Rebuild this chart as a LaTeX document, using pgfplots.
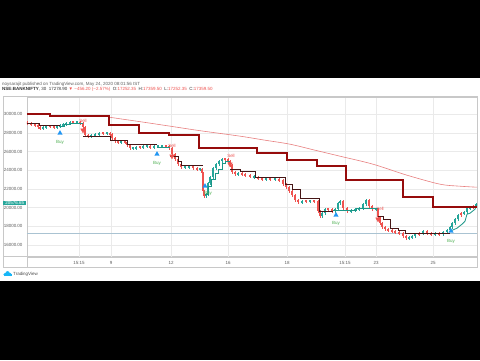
\documentclass[border=0pt]{standalone}
\usepackage{pgfplots}
\pgfplotsset{compat=1.18}
\usepackage{pgfplotstable}
\usepackage{fontspec}
\setmainfont{Liberation Sans}
\definecolor{thickred}{RGB}{150,12,12}
\definecolor{ema}{RGB}{232,128,128}
\definecolor{trdark}{RGB}{70,22,22}
\definecolor{trteal}{RGB}{28,150,135}
\definecolor{cgreen}{RGB}{38,166,154}
\definecolor{cred}{RGB}{239,83,80}
\definecolor{buyblue}{RGB}{33,150,243}
\definecolor{buytxt}{RGB}{76,175,80}
\definecolor{gridc}{RGB}{234,234,234}
\definecolor{lbl}{RGB}{95,95,95}
\definecolor{frame}{RGB}{200,200,200}
\definecolor{pline}{RGB}{170,195,210}
\newcommand\tv{\fontsize{4.5}{5.4}\selectfont}

\pgfplotstableread{
x o c k
27 29100 29037 0
31 29037 28930 0
35 28930 28823 0
38 28823 28609 0
40 28609 28502 0
43 28502 28609 1
46 28609 28716 1
50 28716 28716 0
54 28716 28609 0
57 28609 28716 1
60 28716 28823 1
63 28823 28930 1
66 28930 29037 1
70 29037 29144 1
73 29144 29144 0
77 29144 29144 1
80 29144 29037 0
83 29037 28609 0
85 28609 27753 0
88 27753 27646 0
91 27646 27753 1
95 27753 27860 1
99 27860 27967 1
103 27967 27967 0
107 27967 27967 1
110 27967 27860 0
112 27860 27432 0
115 27432 27111 0
118 27111 27004 0
121 27004 27004 1
125 27004 27004 0
127 27004 26683 0
130 26683 26362 0
133 26362 26362 1
136 26362 26469 1
140 26469 26469 0
143 26469 26576 1
147 26576 26576 1
150 26576 26469 0
154 26469 26576 1
158 26576 26576 1
162 26576 26576 1
166 26576 26576 0
169 26576 26362 0
172 26362 25720 0
175 25720 25185 0
178 25185 24650 0
181 24650 24329 0
185 24329 24329 1
189 24329 24436 1
193 24436 24222 0
197 24222 24115 0
200 24115 24115 1
202 24115 23687 0
203 23687 21761 0
204 21761 21226 0
206 21226 21440 1
208 21440 22617 1
210 22617 23259 1
213 23259 24222 1
216 24222 24650 1
219 24650 24971 1
222 24971 25185 1
225 25185 25185 0
228 25185 24971 0
230 24971 24543 0
232 24543 23794 0
235 23794 23580 0
238 23580 23687 1
242 23687 23580 0
245 23580 23473 0
250 23473 23366 0
254 23366 23259 1
258 23259 23152 0
262 23152 23045 0
266 23045 23045 1
270 23045 23045 0
275 23045 23045 1
279 23045 22938 0
283 22938 22510 0
286 22510 22189 0
289 22189 21761 0
292 21761 21333 0
295 21333 20798 0
298 20798 20584 0
302 20584 20691 1
306 20691 20691 0
310 20691 20691 1
314 20691 20691 0
318 20691 19621 0
320 19621 19086 0
322 19086 19407 1
325 19407 19835 1
328 19835 19835 0
332 19835 19621 0
335 19621 19835 1
338 19835 20477 1
340 20477 20691 1
343 20691 19942 0
347 19942 19621 0
351 19621 19728 1
355 19728 19835 1
359 19835 19942 1
363 19942 20370 1
366 20370 20798 1
369 20798 20156 0
372 20156 19835 0
376 19835 19835 1
378 19835 18979 0
380 18979 18337 0
382 18337 17909 0
385 17909 17695 0
388 17695 17588 0
392 17588 17481 0
395 17481 17374 0
399 17374 17267 0
403 17267 16946 0
406 16946 16732 0
409 16732 16839 1
412 16839 16946 1
415 16946 17160 1
419 17160 17267 0
423 17267 17481 1
427 17481 17267 0
431 17267 17160 0
435 17160 17267 1
439 17267 17160 0
443 17160 17374 1
447 17374 17588 1
450 17588 17909 1
452 17909 18337 1
455 18337 18765 1
458 18765 19193 1
461 19193 19407 0
464 19407 19514 1
467 19514 19942 1
470 19942 20049 1
473 20049 20156 0
476 20156 20370 1
}\price

\pgfplotsset{
  candle/.style 2 args={draw=none, mark=none, restrict y to domain=0:100000,
    error bars/.cd, y dir=both, y explicit, error mark=none,
    error bar style={draw=#1, line width=#2}},
}

\begin{document}
\begin{tikzpicture}[x=1bp,y=1bp]
\fill[black] (0,0) rectangle (480,360);
\fill[white] (0,79) rectangle (480,282);
% header
\node[anchor=west, inner sep=0, font=\tv, text=lbl] at (2,276) {noysarajit published on TradingView.com, May 24, 2020 08:01:56 IST};
\node[anchor=west, inner sep=0, font=\tv, text=black!80] at (2,270.5) {\textbf{NSE:BANKNIFTY}, 30\ \ 17278.90 \textcolor{cred}{▼ −456.20 (−2.57\%)}\ \ O:\textcolor{cred}{17252.35}\ \ H:\textcolor{cred}{17359.50}\ \ L:\textcolor{cred}{17252.35}\ \ C:\textcolor{cred}{17359.50}};
% frame
\draw[frame, line width=0.5pt] (3,93) rectangle (477,264);
\draw[frame, line width=0.5pt] (3,104) -- (477,104);
\draw[frame, line width=0.5pt] (27,93) -- (27,264);
\begin{axis}[at={(27,110)}, anchor=south west, scale only axis,
  width=450bp, height=160bp,
  xmin=27, xmax=477, ymin=14699, ymax=31819,
  scaled y ticks=false, scaled x ticks=false,
  axis line style={draw=frame, line width=0.5pt},
  xtick={79,111,171,228,287,345,376,433},
  xticklabels={15:15,9,12,16,18,15:15,23,25},
  ytick={16000,18000,20000,22000,24000,26000,28000,30000},
  yticklabels={16000.00,18000.00,20000.00,22000.00,24000.00,26000.00,28000.00,30000.00},
  grid=major, major grid style={draw=gridc, line width=0.4pt},
  tick style={draw=none},
  ticklabel style={font=\tv, text=lbl},
  xticklabel style={anchor=center, yshift=-6bp},
  yticklabel style={anchor=east, xshift=-1bp},
]
\addplot[pline, line width=0.5pt] coordinates {(27,17267) (477,17267)};
% candles: wicks then bodies
\addplot[candle={cgreen}{0.4pt}]
  table[x=x, y expr={\thisrow{k}==1 ? (\thisrow{o}+\thisrow{c})/2 : -100000},
        y error expr={abs(\thisrow{c}-\thisrow{o})/2+160}] {\price};
\addplot[candle={cred}{0.4pt}]
  table[x=x, y expr={\thisrow{k}==0 ? (\thisrow{o}+\thisrow{c})/2 : -100000},
        y error expr={abs(\thisrow{c}-\thisrow{o})/2+160}] {\price};
\addplot[candle={cgreen}{1.3pt}]
  table[x=x, y expr={\thisrow{k}==1 ? (\thisrow{o}+\thisrow{c})/2 : -100000},
        y error expr={max(abs(\thisrow{c}-\thisrow{o})/2,80)}] {\price};
\addplot[candle={cred}{1.3pt}]
  table[x=x, y expr={\thisrow{k}==0 ? (\thisrow{o}+\thisrow{c})/2 : -100000},
        y error expr={max(abs(\thisrow{c}-\thisrow{o})/2,80)}] {\price};
% trailing stop dark
\addplot[const plot, trdark, line width=0.8pt] coordinates {(27,29040) (39,28750) (60,28750)};
\addplot[const plot, trdark, line width=0.8pt] coordinates {(83,27650) (110,27220) (127,26790) (157,26790)};
\addplot[const plot, trdark, line width=0.8pt] coordinates {(170,25500) (178,24970) (181,24540) (203,24540)};
\addplot[const plot, trdark, line width=0.8pt] coordinates {(230,24115) (240,23900) (255,23260) (285,22510) (292,21975) (300,21010) (319,19620) (333,19620)};
\addplot[const plot, trdark, line width=0.8pt] coordinates {(378,19090) (383,18765) (390,17800) (398,17590) (405,17267) (450,17267)};
% trailing stop teal
\addplot[const plot, trteal, line width=0.8pt] coordinates {(60,28716) (64,28930) (70,29037) (83,29037)};
\addplot[const plot, trteal, line width=0.8pt] coordinates {(157,26470) (170,26470)};
\addplot[const plot, trteal, line width=0.8pt] coordinates {(205,21440) (208,22296) (211,23045) (215,23687) (218,24115) (222,24757) (225,24971) (230,24971)};
\addplot[const plot, trteal, line width=0.8pt] coordinates {(333,19728) (356,19942) (378,19942)};
\addplot[trteal, line width=0.8pt] coordinates {(450,17481) (457,17802) (462,18230) (465,18551) (467,19300) (470,19407) (475,19835) (477,20370)};
% moving average
\addplot[ema, line width=0.6pt, smooth] coordinates {(109,29680) (140,29200) (170,28720) (200,28235) (240,27650) (265,27218) (290,26790) (315,26148) (340,25506) (373,24650) (407,23473) (440,22510) (460,22296) (477,22189)};
% thick step line
\addplot[const plot, thickred, line width=2pt] coordinates {(27,30000) (50,29860) (109,28820) (139,27940) (169,27750) (199,26390) (257,25800) (287,25150) (317,24440) (346,23010) (403,21150) (433,20080) (477,20080)};
% signals
\addplot[only marks, mark=triangle*, mark size=2.6pt, buyblue] coordinates {(60,27967) (157,25720) (205,22296) (336,19193) (451,17481)};
\addplot[only marks, mark=triangle*, mark size=2.6pt, cred, mark options={rotate=180}] coordinates {(83,28288) (172,25506) (230,24650) (378,18765)};
\node[font=\tv, text=buytxt] at (axis cs:60,27004) {Buy};
\node[font=\tv, text=buytxt] at (axis cs:157,24757) {Buy};
\node[font=\tv, text=buytxt] at (axis cs:208,21547) {Buy};
\node[font=\tv, text=buytxt] at (axis cs:336,18337) {Buy};
\node[font=\tv, text=buytxt] at (axis cs:451,16411) {Buy};
\node[font=\tv, text=cred] at (axis cs:83,29251) {Sell};
\node[font=\tv, text=cred] at (axis cs:172,26576) {Sell};
\node[font=\tv, text=cred] at (axis cs:231,25506) {Sell};
\node[font=\tv, text=cred] at (axis cs:380,19835) {Sell};
\end{axis}
% last price label
\node[anchor=west, fill=cgreen, text=white, font=\tv, inner sep=0.9bp, minimum width=23bp] at (3,157) {20576.65};
% logo
\fill[buyblue!70!cyan] (5,85.5) circle (1.6) (7.6,86.8) circle (2.1) (10.2,85.5) circle (1.6);
\fill[buyblue!70!cyan] (3.6,84) rectangle (11.6,85.6);
\node[anchor=west, inner sep=0, font=\tv, text=black!70] at (13,86) {TradingView};
\end{tikzpicture}
\end{document}
